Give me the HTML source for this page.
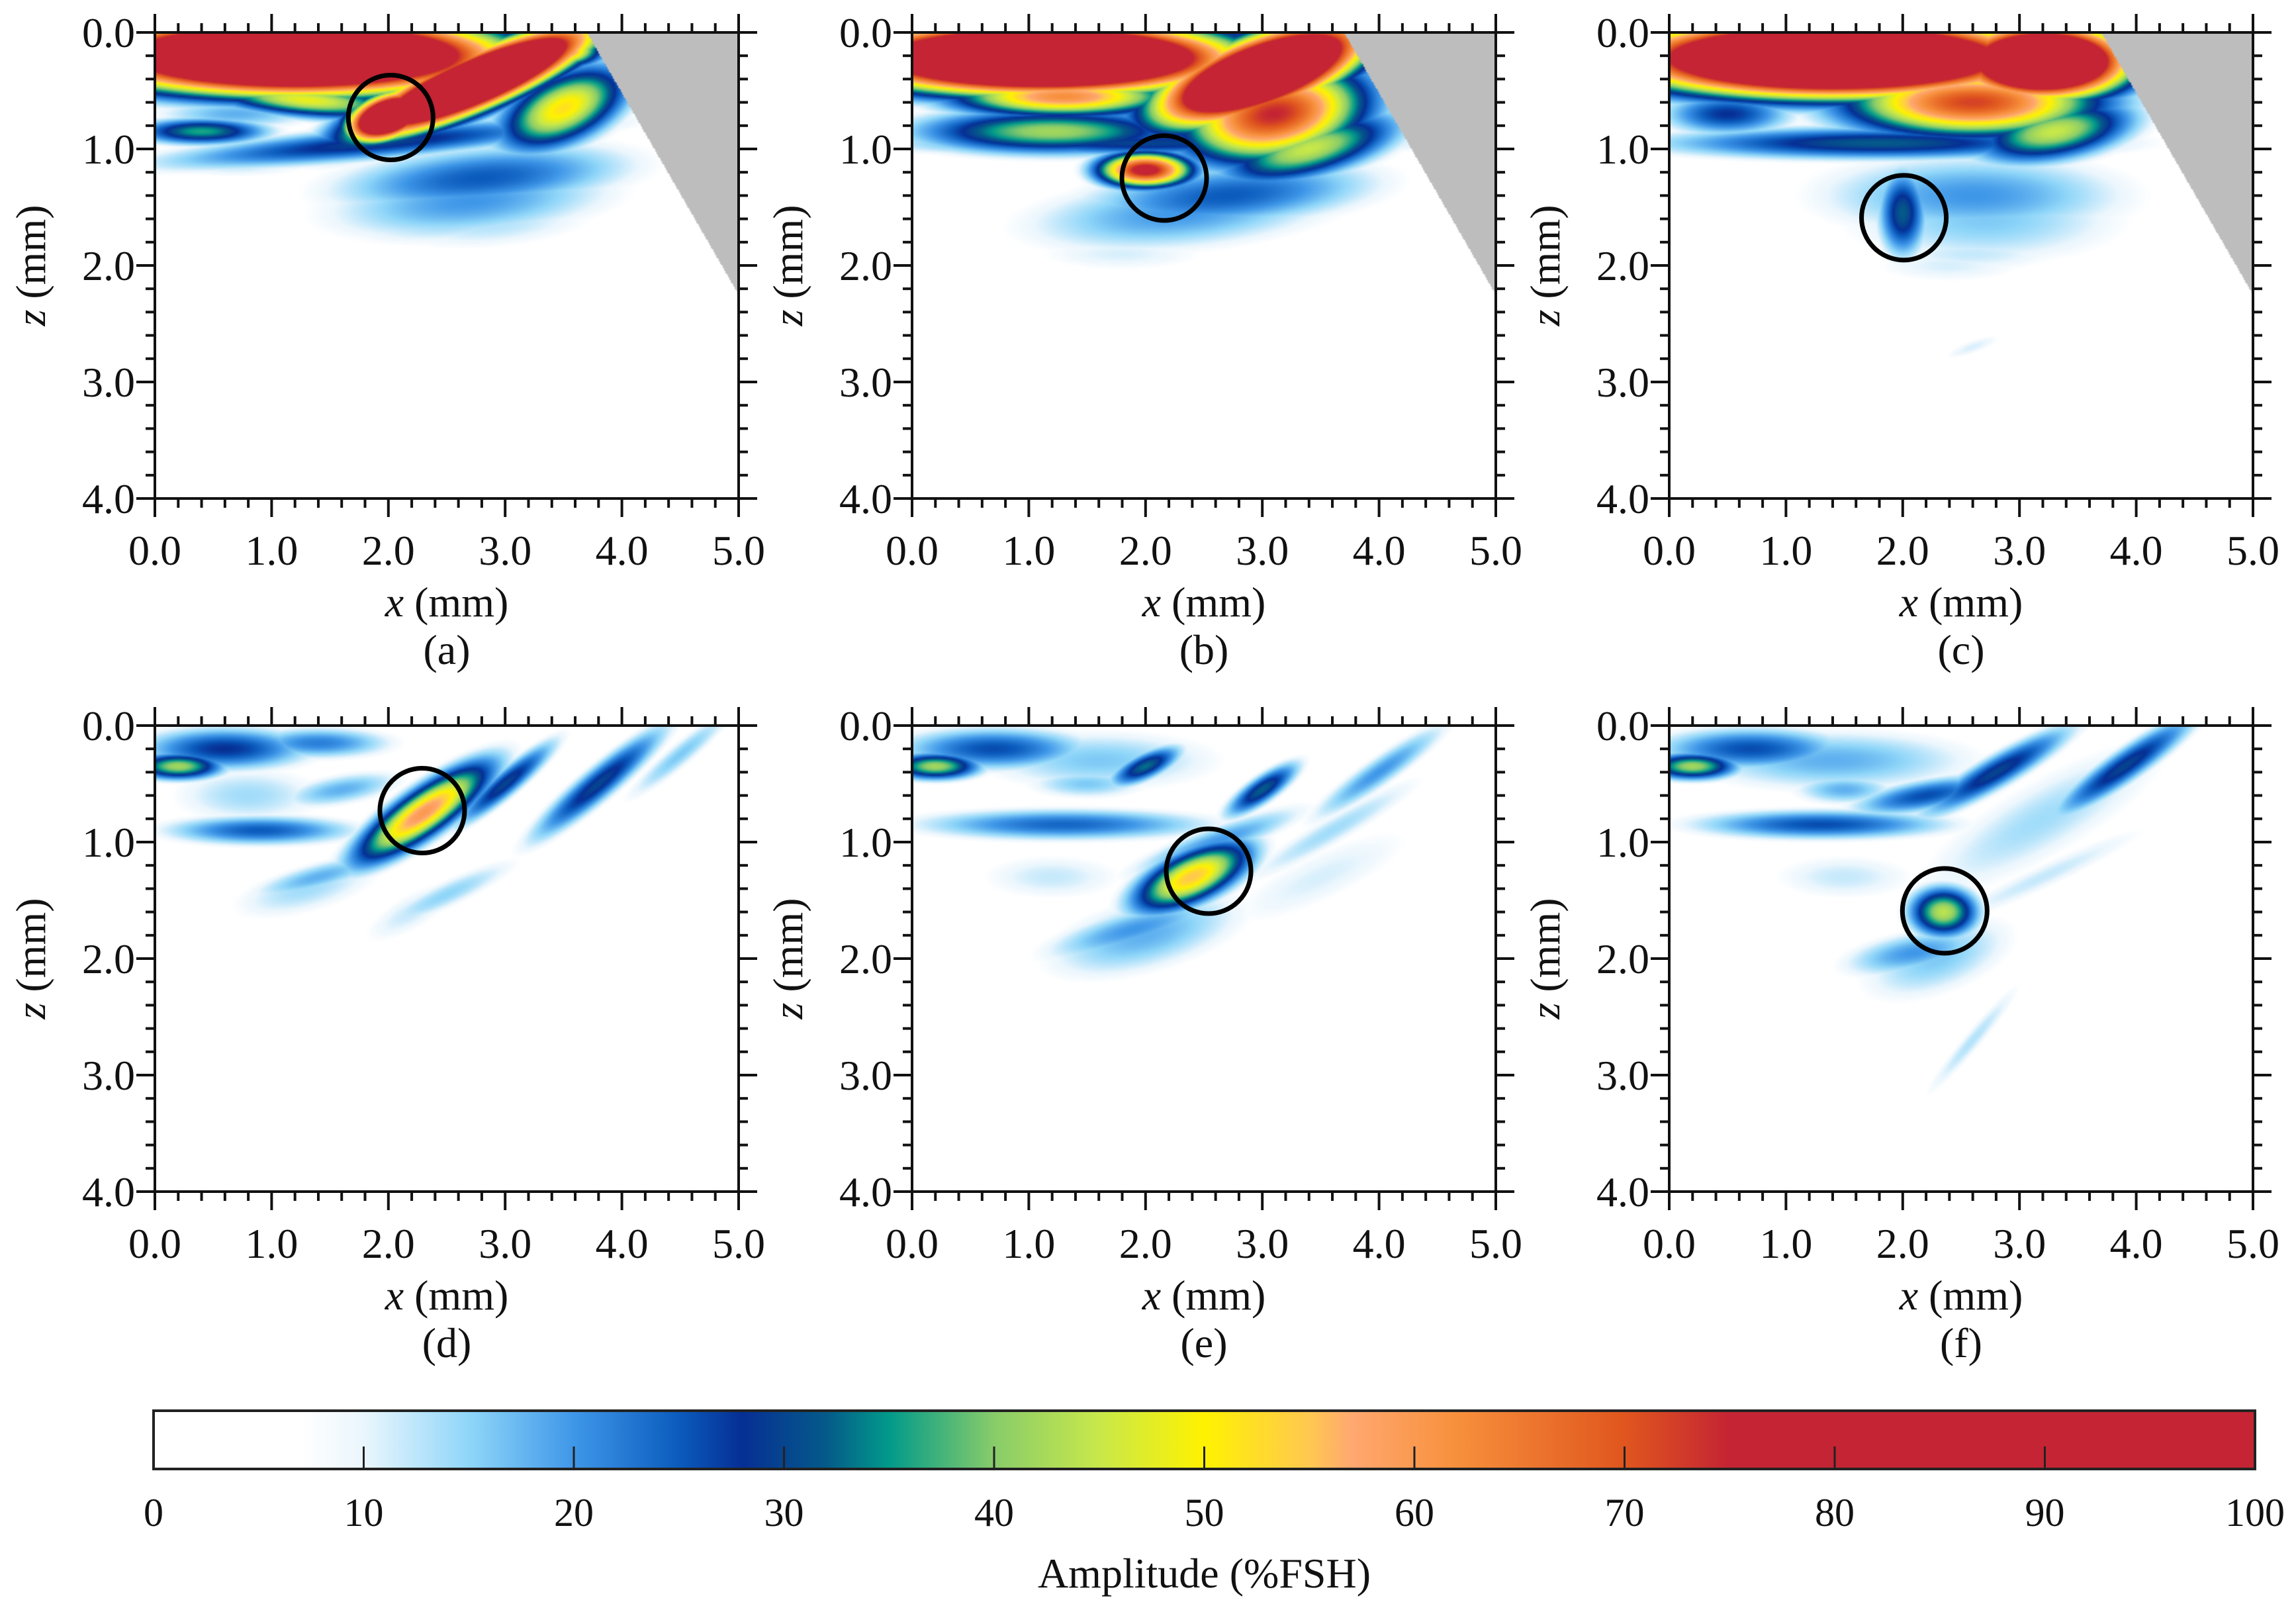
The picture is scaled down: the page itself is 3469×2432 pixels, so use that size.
<!DOCTYPE html>
<html><head><meta charset="utf-8">
<style>
html,body{margin:0;padding:0;background:#fff;}
#root{position:relative;width:3469px;height:2432px;overflow:hidden;background:#fff;}
canvas{position:absolute;image-rendering:auto;}
svg{position:absolute;left:0;top:0;}
text{font-family:"Liberation Serif",serif;fill:#111;}
</style></head>
<body>
<div id="root">
<svg id="ov" width="3469" height="2432"></svg>
</div>
<script>
// ---- data: blob descriptors per panel (x mm, z mm, half-length, half-width, angle deg, amplitude %FSH)
const aX=[1.2,2.75,2.0,1.3,3.5,3.4,1.9,0.4,2.8,2.6,0.7,0.7,2.2,2.7,2.9];
const aZ=[0.2,0.42,0.72,0.58,0.65,0.15,0.95,0.85,1.25,1.6,1.15,0.7,0.05,1.45,1.65];
const aA=[1.6,1.0,0.35,0.9,0.6,0.4,2.0,0.6,1.4,1.2,0.8,0.8,0.8,1.4,1.1];
const aB=[0.3,0.22,0.18,0.15,0.3,0.15,0.15,0.12,0.3,0.25,0.12,0.15,0.1,0.35,0.25];
const aT=[0,23,20,-5,25,0,5,0,5,5,0,0,0,5,5];
const aV=[160,150,130,48,52,75,30,36,25,15,12,18,60,20,13];

const bX=[1.1,3.0,3.1,2.0,1.2,3.4,2.7,2.0,1.3,2.0,2.3,1.8];
const bZ=[0.22,0.35,0.7,1.18,0.85,1.0,1.4,1.7,0.55,0.95,1.55,1.9];
const bA=[1.5,0.9,0.8,0.4,1.2,0.8,1.4,1.4,1.0,2.2,1.5,1.0];
const bB=[0.28,0.3,0.4,0.15,0.2,0.25,0.3,0.25,0.18,0.12,0.35,0.2];
const bT=[0,20,10,0,0,15,5,0,0,0,5,0];
const bV=[160,140,75,80,42,45,25,14,62,30,20,11];

const cX=[1.4,3.2,2.6,3.3,1.8,2.0,2.6,2.6,2.6,0.5,2.7,2.4];
const cZ=[0.22,0.25,0.6,0.85,0.95,1.55,1.4,1.9,2.7,0.7,1.6,2.0];
const cA=[1.6,0.7,1.1,0.7,2.0,0.4,1.5,1.0,0.35,0.6,1.4,0.9];
const cB=[0.3,0.3,0.3,0.25,0.15,0.22,0.4,0.2,0.08,0.2,0.45,0.2];
const cT=[0,0,0,10,0,90,0,0,20,0,0,0];
const cV=[160,140,72,45,32,32,20,12,11,28,16,11];

const dX=[0.2,0.6,2.3,3.0,3.8,4.5,0.9,1.4,2.5,1.4,1.6,1.3,2.2,0.8];
const dZ=[0.35,0.2,0.75,0.5,0.5,0.25,0.9,1.3,1.45,0.15,0.55,1.4,1.6,0.6];
const dA=[0.4,0.8,0.7,0.6,0.8,0.7,0.9,0.7,0.8,0.7,0.6,0.8,0.6,0.8];
const dB=[0.12,0.2,0.2,0.12,0.15,0.12,0.14,0.14,0.14,0.15,0.15,0.25,0.2,0.3];
const dT=[0,0,35,40,40,40,0,15,25,0,10,15,30,0];
const dV=[42,28,60,30,30,16,25,18,15,22,18,14,12,14];

const eX=[0.2,0.7,2.0,3.0,4.0,1.3,2.4,1.9,2.6,3.6,1.5,2.0,1.2,3.5,1.6];
const eZ=[0.35,0.2,0.35,0.55,0.4,0.85,1.3,1.75,1.0,0.9,0.5,1.8,1.3,1.3,0.3];
const eA=[0.4,0.9,0.35,0.4,0.8,1.4,0.55,0.9,0.9,1.1,0.6,1.0,0.8,1.2,1.2];
const eB=[0.12,0.2,0.12,0.12,0.14,0.15,0.22,0.2,0.15,0.15,0.15,0.35,0.25,0.3,0.3];
const eT=[0,0,25,35,35,0,25,15,20,30,0,15,0,25,0];
const eV=[42,26,33,32,20,24,55,20,20,14,16,18,12,11,16];

const fX=[0.2,0.7,2.8,3.9,1.3,2.35,2.1,2.6,3.2,2.2,1.5,2.3,1.5,3.2,1.4];
const fZ=[0.35,0.2,0.4,0.35,0.85,1.6,1.95,2.7,1.3,0.6,0.55,2.0,1.3,0.8,0.3];
const fA=[0.4,0.9,0.8,0.8,1.2,0.3,0.7,0.8,1.3,0.7,0.5,0.8,0.8,1.5,1.4];
const fB=[0.12,0.2,0.15,0.15,0.14,0.22,0.2,0.1,0.14,0.15,0.15,0.35,0.25,0.4,0.3];
const fT=[0,0,30,35,0,0,10,50,25,10,0,20,0,30,0];
const fV=[42,26,30,30,26,44,20,13,12,26,18,16,12,14,18];

const circX=[2.02,2.16,2.01,2.29,2.54,2.36];
const circZ=[0.73,1.25,1.59,0.73,1.25,1.59];
const panelLabels=["(a)","(b)","(c)","(d)","(e)","(f)"];
const xTicks=["0.0","1.0","2.0","3.0","4.0","5.0"];
const zTicks=["0.0","1.0","2.0","3.0","4.0"];
const cbTicks=[0,10,20,30,40,50,60,70,80,90,100];

// colormap stops
const cmV=[0,7,10,15,20,25,28,32,35,40,45,50,55,57,62,70,75,100];
const cmC=["#ffffff","#ffffff","#eaf6fd","#8fd6f9","#3f97e8","#0b5bbd","#062f94","#055a8a","#019a8a","#88cc6a","#c8e84a","#fff200","#ffc850","#ffa870","#f7903c","#e0561e","#c42433","#c42433"];

const panels=[
 {L:234,T:49,X:aX,Z:aZ,A:aA,B:aB,Th:aT,V:aV,mask:true},
 {L:1378,T:49,X:bX,Z:bZ,A:bA,B:bB,Th:bT,V:bV,mask:true},
 {L:2522,T:49,X:cX,Z:cZ,A:cA,B:cB,Th:cT,V:cV,mask:true},
 {L:234,T:1096,X:dX,Z:dZ,A:dA,B:dB,Th:dT,V:dV,mask:false},
 {L:1378,T:1096,X:eX,Z:eZ,A:eA,B:eB,Th:eT,V:eV,mask:false},
 {L:2522,T:1096,X:fX,Z:fZ,A:fA,B:fB,Th:fT,V:fV,mask:false}
];
const W=882,H=704;

function hex(c){return [parseInt(c.substr(1,2),16),parseInt(c.substr(3,2),16),parseInt(c.substr(5,2),16)];}
const cmRGB=cmC.map(hex);
function cmap(v){
  if(v<=0)return cmRGB[0];
  if(v>=100)return cmRGB[cmRGB.length-1];
  for(let i=0;i<cmV.length-1;i++){
    if(v>=cmV[i]&&v<=cmV[i+1]){
      const t=(v-cmV[i])/(cmV[i+1]-cmV[i]||1);
      const a=cmRGB[i],b=cmRGB[i+1];
      return [a[0]+(b[0]-a[0])*t,a[1]+(b[1]-a[1])*t,a[2]+(b[2]-a[2])*t];
    }
  }
  return cmRGB[0];
}
const root=document.getElementById('root');
const ov=document.getElementById('ov');
const NS="http://www.w3.org/2000/svg";
function mk(tag,attrs,parent){const e=document.createElementNS(NS,tag);for(const k in attrs)e.setAttribute(k,attrs[k]);(parent||ov).appendChild(e);return e;}

panels.forEach((p,pi)=>{
  const cw=441,ch=352;
  const cv=document.createElement('canvas');
  cv.width=cw;cv.height=ch;
  cv.style.left=p.L+'px';cv.style.top=p.T+'px';cv.style.width=W+'px';cv.style.height=H+'px';
  
  
  root.insertBefore(cv,ov);
  const ctx=cv.getContext('2d');
  const img=ctx.createImageData(cw,ch);
  const n=p.X.length;
  const cs=[],sn=[];
  for(let k=0;k<n;k++){const r=p.Th[k]*Math.PI/180;cs.push(Math.cos(r));sn.push(Math.sin(r));}
  for(let j=0;j<ch;j++){
    const z=(j+0.5)/ch*4;
    for(let i=0;i<cw;i++){
      const x=(i+0.5)/cw*5;
      let v=0;
      for(let k=0;k<n;k++){
        const dx=x-p.X[k],dz=z-p.Z[k];
        const u=dx*cs[k]-dz*sn[k];
        const w=dx*sn[k]+dz*cs[k];
        const e=p.V[k]*Math.exp(-(u*u)/(p.A[k]*p.A[k])-(w*w)/(p.B[k]*p.B[k]));
        if(e>v)v=e;
      }
      let c=cmap(v);
      if(p.mask){
        const xb=3.7+1.3*(z/2.25);
        if(x>xb)c=[189,189,189];
      }
      const o=(j*cw+i)*4;
      img.data[o]=c[0];img.data[o+1]=c[1];img.data[o+2]=c[2];img.data[o+3]=255;
    }
  }
  ctx.putImageData(img,0,0);

  const g=mk('g',{});
  
  
  const sx=v=>p.L+v/5*W, sz=v=>p.T+v/4*H;
  const fr=mk('rect',{x:p.L,y:p.T,width:W,height:H,fill:'none',stroke:'#111','stroke-width':4},g);
  
  
  for(let t=0;t<=25;t++){
    const xv=t*0.2,X=sx(xv),len=(t%5===0)?28:14;
    mk('line',{x1:X,x2:X,y1:p.T,y2:p.T-len,stroke:'#111','stroke-width':4},g);
    mk('line',{x1:X,x2:X,y1:p.T+H,y2:p.T+H+len,stroke:'#111','stroke-width':4},g);
  }
  for(let t=0;t<=20;t++){
    const zv=t*0.2,Y=sz(zv),len=(t%5===0)?28:14;
    mk('line',{x1:p.L,x2:p.L-len,y1:Y,y2:Y,stroke:'#111','stroke-width':4},g);
    mk('line',{x1:p.L+W,x2:p.L+W+len,y1:Y,y2:Y,stroke:'#111','stroke-width':4},g);
  }
  xTicks.forEach((s,k)=>{
    const t=mk('text',{x:sx(k),y:p.T+H+100,'font-size':64,'text-anchor':'middle'},g);
    t.textContent=s;
    
    
  });
  zTicks.forEach((s,k)=>{
    const t=mk('text',{x:p.L-30,y:sz(k)+22,'font-size':64,'text-anchor':'end'},g);
    t.textContent=s;
    
    
  });
  const xl=mk('text',{x:p.L+W/2,y:p.T+H+178,'font-size':64,'text-anchor':'middle'},g);
  xl.innerHTML='<tspan font-style="italic">x</tspan> (mm)';
  
  
  const pl=mk('text',{x:p.L+W/2,y:p.T+H+250,'font-size':64,'text-anchor':'middle'},g);
  pl.textContent=panelLabels[pi];
  
  
  const yl=mk('text',{x:0,y:0,'font-size':64,'text-anchor':'middle',transform:`translate(${p.L-166},${p.T+H/2}) rotate(-90)`},g);
  yl.innerHTML='<tspan font-style="italic">z</tspan> (mm)';
  
  
  const ci=mk('circle',{cx:sx(circX[pi]),cy:sz(circZ[pi]),r:64,fill:'none',stroke:'#000','stroke-width':7},g);
  
  
});

// colorbar
const CL=232,CR=3407,CT=2131,CB=2219;
const defs=mk('defs',{});
const lg=mk('linearGradient',{id:'cbg',x1:0,x2:1,y1:0,y2:0},defs);
cmV.forEach((v,k)=>mk('stop',{offset:(v/100),'stop-color':cmC[k]},lg));
const cbg=mk('g',{});


mk('rect',{x:CL,y:CT,width:CR-CL,height:CB-CT,fill:'url(#cbg)',stroke:'#222','stroke-width':4},cbg);
cbTicks.forEach(v=>{
  const X=CL+v/100*(CR-CL);
  if(v>0&&v<100)mk('line',{x1:X,x2:X,y1:CB,y2:CB-34,stroke:'#222','stroke-width':3},cbg);
  const t=mk('text',{x:X,y:2305,'font-size':60,'text-anchor':'middle'},cbg);
  t.textContent=v;
  
  
});
const ct=mk('text',{x:(CL+CR)/2,y:2398,'font-size':64,'text-anchor':'middle'},cbg);
ct.textContent='Amplitude (%FSH)';


</script>
</body></html>
